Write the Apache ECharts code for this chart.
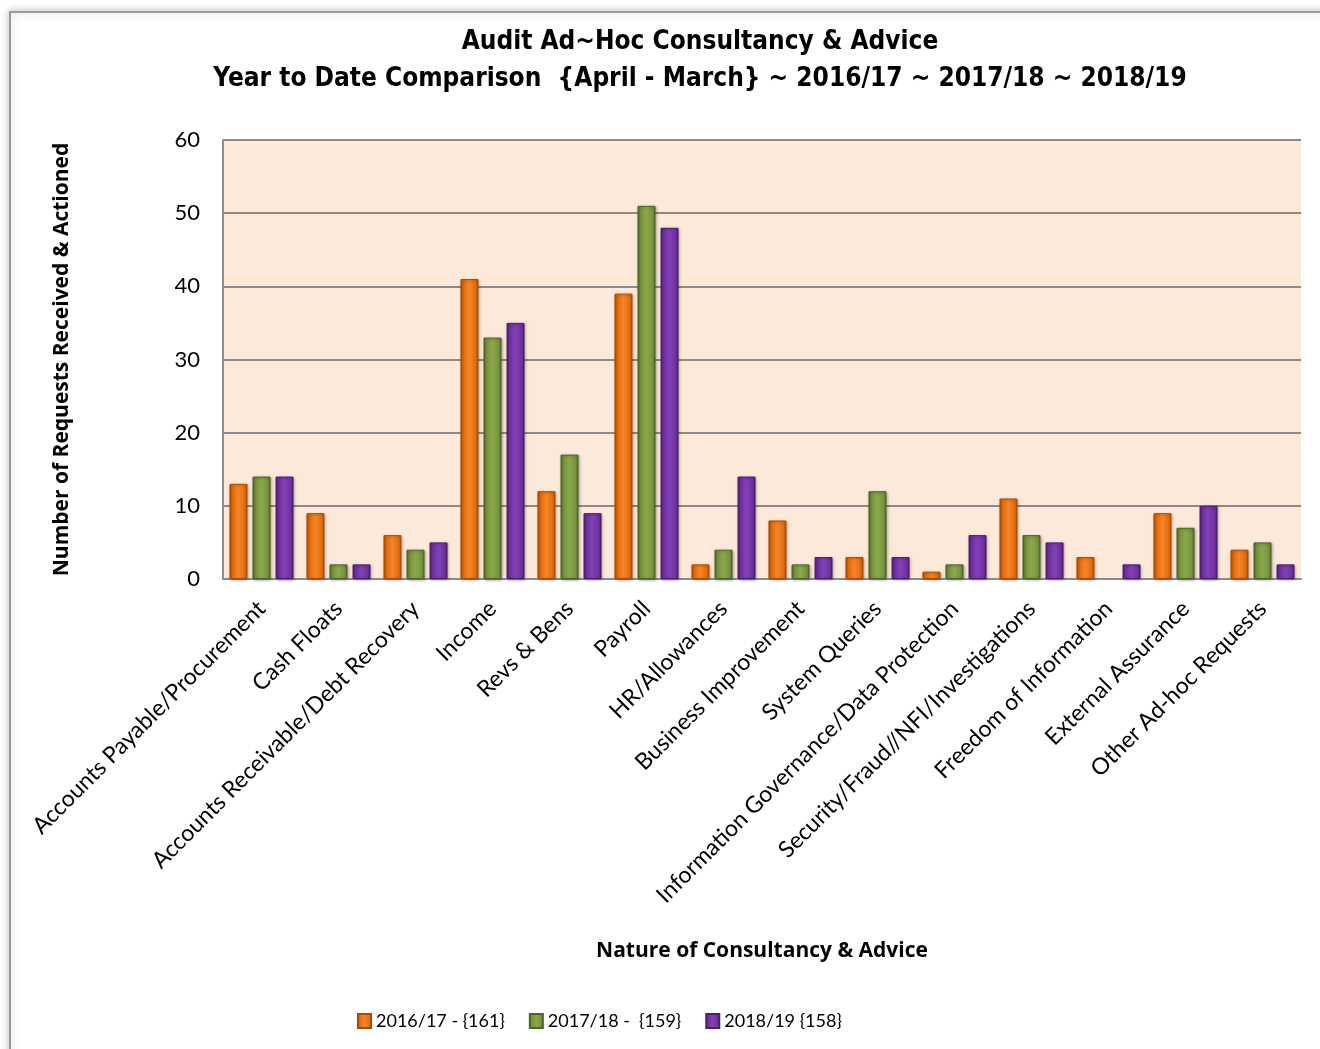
<!DOCTYPE html>
<html>
<head>
<meta charset="utf-8">
<script src="https://cdn.jsdelivr.net/npm/echarts@6/dist/echarts.min.js"></script>
<style>
  html, body { margin: 0; padding: 0; background: #ffffff; }
  #main { width: 1320px; height: 1049px; }
</style>
</head>
<body>
<div id="main"></div>
<script>
// categories
var categories = [
  "Accounts Payable/Procurement",
  "Cash Floats",
  "Accounts Receivable/Debt Recovery",
  "Income",
  "Revs & Bens",
  "Payroll",
  "HR/Allowances",
  "Business Improvement",
  "System Queries",
  "Information Governance/Data Protection",
  "Security/Fraud//NFI/Investigations",
  "Freedom of Information",
  "External Assurance",
  "Other Ad-hoc Requests"
];
// series values
var y2016 = [13, 9, 6, 41, 12, 39, 2, 8, 3, 1, 11, 3, 9, 4];
var y2017 = [14, 2, 4, 33, 17, 51, 4, 2, 12, 2, 6, 0, 7, 5];
var y2018 = [14, 2, 5, 35, 9, 48, 14, 3, 3, 6, 5, 2, 10, 2];
var seriesNames = ["2016/17 - {161}", "2017/18 -  {159}", "2018/19 {158}"];

var myChart = echarts.init(document.getElementById("main"));

// bevel look for bars
function bevel(dark, mid, light) {
  return {
    type: "linear", x: 0, y: 0, x2: 1, y2: 0,
    colorStops: [
      { offset: 0, color: dark },
      { offset: 0.15, color: mid },
      { offset: 0.5, color: light },
      { offset: 0.85, color: mid },
      { offset: 1, color: dark }
    ]
  };
}

function makeSeries(name, data, dark, mid, light) {
  return {
    name: name,
    type: "bar",
    // zero -> no bar drawn (like the original)
    data: data.map(function (v) { return v === 0 ? "-" : v; }),
    barWidth: 18,
    barGap: "28%",
    itemStyle: {
      color: bevel(dark, mid, light),
      borderColor: dark,
      borderWidth: 1,
      shadowColor: "rgba(0,0,0,0.3)",
      shadowBlur: 3,
      shadowOffsetX: 1,
      shadowOffsetY: 1
    }
  };
}

var option = {
  backgroundColor: "#ffffff",
  textStyle: { fontFamily: "Lato, 'Open Sans', sans-serif" },
  animation: false,
  color: ["#e46c0a", "#77933c", "#7030a0"],
  title: {
    text: "Audit Ad~Hoc Consultancy & Advice\nYear to Date Comparison  {April - March} ~ 2016/17 ~ 2017/18 ~ 2018/19",
    left: 695,
    textAlign: "center",
    top: 19,
    textStyle: {
      fontFamily: "'DejaVu Sans Condensed', 'DejaVu Sans', sans-serif",
      fontWeight: "bold",
      fontSize: 26,
      lineHeight: 37,
      color: "#000000"
    }
  },
  graphic: [
    {
      type: "rect",
      z: -10,
      shape: { x: 10, y: 12, width: 1340, height: 1060 },
      style: {
        fill: "#ffffff",
        stroke: "#9a9a9a",
        lineWidth: 2,
        shadowColor: "rgba(0,0,0,0.25)",
        shadowBlur: 8
      }
    }
  ],
  legend: {
    bottom: 14,
    left: 352,
    icon: "rect",
    itemWidth: 13,
    itemHeight: 14,
    itemGap: 24,
    data: seriesNames,
    textStyle: { fontSize: 18, color: "#000000", fontFamily: "Lato, sans-serif" }
  },
  grid: {
    left: 223,
    right: 19,
    top: 140,
    bottom: 470,
    show: true,
    backgroundColor: "#fde9d9",
    borderWidth: 0
  },
  xAxis: {
    type: "category",
    data: categories,
    name: "Nature of Consultancy & Advice",
    nameLocation: "middle",
    nameGap: 362,
    nameTextStyle: {
      fontSize: 21, fontWeight: "bold", color: "#000000",
      fontFamily: "'Open Sans', sans-serif"
    },
    axisLine: { lineStyle: { color: "#8c8c8c", width: 2 } },
    axisTick: { show: false },
    axisLabel: {
      interval: 0,
      rotate: 45,
      fontSize: 23,
      color: "#000000",
      margin: 26
    }
  },
  yAxis: {
    type: "value",
    min: 0,
    max: 60,
    interval: 10,
    name: "Number of Requests Received & Actioned",
    nameLocation: "middle",
    nameGap: 150,
    nameTextStyle: {
      fontSize: 21, fontWeight: "bold", color: "#000000",
      fontFamily: "'Open Sans', sans-serif"
    },
    axisLine: { show: true, lineStyle: { color: "#8c8c8c", width: 2 } },
    axisTick: { show: false },
    axisLabel: { fontSize: 22, color: "#000000", margin: 23 },
    splitLine: { lineStyle: { color: "#8a8a8a", width: 2 } }
  },
  series: [
    makeSeries(seriesNames[0], y2016, "#a84d05", "#e46c0a", "#f5842a"),
    makeSeries(seriesNames[1], y2017, "#4f6428", "#77933c", "#8aa84c"),
    makeSeries(seriesNames[2], y2018, "#4a1f6c", "#7030a0", "#8240b5")
  ]
};

myChart.setOption(option);
</script>
</body>
</html>
